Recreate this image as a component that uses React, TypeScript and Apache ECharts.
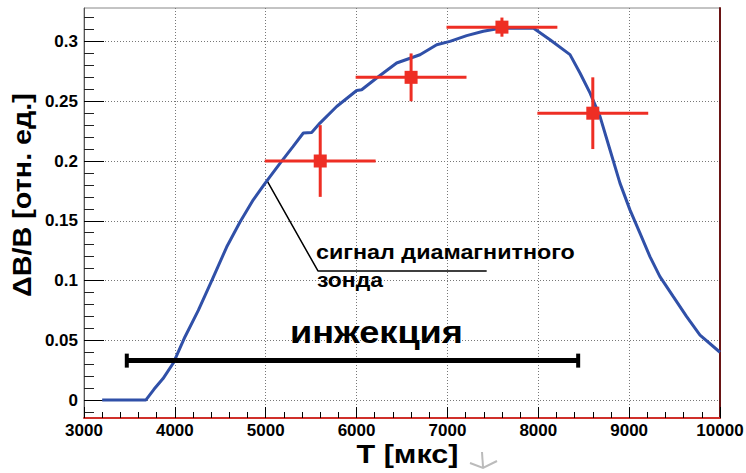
import React, { useEffect, useRef } from "react";
import * as echarts from "echarts";

// ---------- data ----------
const probeTimes = [
  3200, 3680, 3770, 3870, 3983, 4112, 4258, 4405, 4570, 4717, 4863, 4990,
  5157, 5300, 5414, 5506, 5597, 5781, 6001, 6056, 6221, 6441, 6698, 6882,
  7028, 7212, 7395, 7578, 7945, 8129, 8349, 8459, 8569, 8679, 8789, 8899,
  9009, 9119, 9229, 9339, 9486, 9633, 9780, 10000,
];
const probeValues = [
  0, 0, 0.009, 0.018, 0.031, 0.053, 0.075, 0.0997, 0.128, 0.149, 0.1675, 0.181,
  0.198, 0.212, 0.2234, 0.2239, 0.2317, 0.2456, 0.259, 0.2596, 0.2694, 0.282, 0.2889, 0.2973,
  0.3001, 0.3049, 0.3085, 0.311, 0.3113, 0.3015, 0.289, 0.2736, 0.257, 0.2373, 0.2094, 0.1815,
  0.1591, 0.1396, 0.12, 0.1033, 0.0865, 0.0698, 0.0544, 0.04,
];

const pointTimes = [5600, 6600, 7600, 8600];
const pointValues = [0.2, 0.27, 0.312, 0.24];
const pointTimeErrors = [610, 610, 610, 610];
const pointValueErrors = [0.03, 0.02, 0.008, 0.03];

const injectionStart = 3460;
const injectionEnd = 8450;
const injectionLevel = 0.033;

const leaderTimes = [5011, 5575, 7432];
const leaderValues = [0.184, 0.108, 0.108];

const xMin = 3000;
const xMax = 10000;
const xStep = 1000;
const yMin = -0.015;
const yMax = 0.328;
const yMajorTicks = [0, 0.05, 0.1, 0.15, 0.2, 0.25, 0.3];
const yMajorLabels = ["0", "0.05", "0.1", "0.15", "0.2", "0.25", "0.3"];
const yMinorTicks = [
  -0.01, 0.01, 0.02, 0.03, 0.04, 0.06, 0.07, 0.08, 0.09, 0.11, 0.12, 0.13, 0.14,
  0.16, 0.17, 0.18, 0.19, 0.21, 0.22, 0.23, 0.24, 0.26, 0.27, 0.28, 0.29, 0.31, 0.32,
];

const yTitle = "ΔB/B [отн. ед.]";
const xTitle = "T [мкс]";
const probeLabel1 = "сигнал диамагнитного";
const probeLabel2 = "зонда";
const injectionLabel = "инжекция";

// ---------- helpers ----------
const FONT = '"Liberation Sans", Arial, Helvetica, sans-serif';
let measureCtx: CanvasRenderingContext2D | null = null;
function fit(text: string, size: number, target: number): number {
  if (!measureCtx) measureCtx = document.createElement("canvas").getContext("2d");
  if (!measureCtx) return 1;
  measureCtx.font = `bold ${size}px ${FONT}`;
  const w = measureCtx.measureText(text).width;
  return w > 0 ? target / w : 1;
}

const RED = "#ee2e24";
const BLUE = "#3050a8";

export default function App() {
  const ref = useRef<HTMLDivElement>(null);

  useEffect(() => {
    if (!ref.current) return;
    const chart = echarts.init(ref.current, undefined, { renderer: "svg" });

    const curve = probeTimes.map((t, i) => [t, probeValues[i]]);
    const points = pointTimes.map((t, i) => [t, pointValues[i], pointTimeErrors[i], pointValueErrors[i]]);
    const leader = leaderTimes.map((t, i) => [t, leaderValues[i]]);

    const textEl = (text: string, x: number, y: number, size: number, target: number, align: string, extra: any = {}) => ({
      type: "text",
      x,
      y,
      scaleX: fit(text, size, target),
      z: 100,
      ...extra,
      style: {
        text,
        font: `bold ${size}px ${FONT}`,
        fill: "#000",
        align,
        textAlign: align,
        verticalAlign: "middle",
        textVerticalAlign: "middle",
      },
    });

    const option: any = {
      animation: false,
      backgroundColor: "#fff",
      grid: {
        left: 84,
        right: 26,
        top: 8,
        bottom: 55,
        show: true,
        borderColor: "#888",
        borderWidth: 1,
        backgroundColor: "transparent",
        containLabel: false,
        outerBoundsMode: "none",
      },
      xAxis: {
        type: "value",
        min: xMin,
        max: xMax,
        interval: xStep,
        axisLine: { show: true, onZero: false, lineStyle: { color: "#d0302a", width: 2 } },
        axisTick: { show: true, inside: true, length: 11, lineStyle: { color: "#000", width: 1 } },
        minorTick: { show: true, splitNumber: 5, length: 6, lineStyle: { color: "#000", width: 1 } },
        minorSplitLine: { show: false },
        axisLabel: {
          show: true,
          margin: 4,
          fontSize: 17,
          fontWeight: "bold",
          fontFamily: FONT,
          color: "#000",
          formatter: (v: number) => String(v),
        },
        splitLine: { show: true, lineStyle: { color: "#777", type: [1, 2], width: 1 } },
      },
      yAxis: [
        {
          type: "value",
          position: "left",
          min: yMin,
          max: yMax,
          axisLine: { show: true, onZero: false, lineStyle: { color: "#555", width: 1 } },
          axisTick: {
            show: true,
            inside: true,
            length: 20,
            customValues: yMajorTicks,
            lineStyle: { color: "#000", width: 1 },
          },
          axisLabel: {
            show: true,
            customValues: yMajorTicks,
            margin: 6,
            fontSize: 17,
            fontWeight: "bold",
            fontFamily: FONT,
            color: "#000",
            formatter: (v: number) => {
              const i = yMajorTicks.findIndex((t) => Math.abs(t - v) < 1e-9);
              return i >= 0 ? yMajorLabels[i] : "";
            },
          },
          splitLine: { show: true, lineStyle: { color: "#777", type: [1, 2], width: 1 } },
        },
        {
          type: "value",
          position: "left",
          min: yMin,
          max: yMax,
          axisLine: { show: false },
          axisLabel: { show: false },
          splitLine: { show: false },
          axisTick: {
            show: true,
            inside: true,
            length: 10,
            customValues: yMinorTicks,
            lineStyle: { color: "#222", width: 1 },
          },
        },
        {
          type: "value",
          position: "right",
          min: yMin,
          max: yMax,
          axisLine: { show: true, onZero: false, lineStyle: { color: "#6a1414", width: 2 } },
          axisLabel: { show: false },
          axisTick: { show: false },
          splitLine: { show: false },
        },
      ],
      series: [
        {
          name: "leader",
          type: "line",
          data: leader,
          showSymbol: false,
          symbol: "none",
          lineStyle: { color: "#000", width: 1.5 },
          z: 2,
        },
        {
          name: "probe",
          type: "line",
          data: curve,
          showSymbol: false,
          symbol: "none",
          lineStyle: { color: BLUE, width: 3 },
          z: 3,
        },
        {
          name: "errors",
          type: "custom",
          data: points,
          encode: { x: 0, y: 1 },
          z: 4,
          renderItem: (_p: any, api: any) => {
            const x = api.value(0);
            const y = api.value(1);
            const dx = api.value(2);
            const dy = api.value(3);
            const l = api.coord([x - dx, y]);
            const r = api.coord([x + dx, y]);
            const b = api.coord([x, y - dy]);
            const t = api.coord([x, y + dy]);
            const style = { stroke: RED, lineWidth: 3 };
            return {
              type: "group",
              children: [
                { type: "line", shape: { x1: l[0], y1: l[1], x2: r[0], y2: r[1] }, style },
                { type: "line", shape: { x1: b[0], y1: b[1], x2: t[0], y2: t[1] }, style },
              ],
            };
          },
        },
        {
          name: "points",
          type: "scatter",
          data: points.map((p) => [p[0], p[1]]),
          symbol: "rect",
          symbolSize: 13,
          itemStyle: { color: RED, opacity: 1 },
          z: 5,
        },
        {
          name: "injection",
          type: "custom",
          data: [[injectionStart, injectionEnd, injectionLevel]],
          encode: { x: [0, 1], y: 2 },
          z: 4,
          renderItem: (_p: any, api: any) => {
            const a = api.coord([api.value(0), api.value(2)]);
            const b = api.coord([api.value(1), api.value(2)]);
            const style = { stroke: "#000", lineWidth: 5 };
            const cap = { stroke: "#000", lineWidth: 4 };
            return {
              type: "group",
              children: [
                { type: "line", shape: { x1: a[0], y1: a[1], x2: b[0], y2: b[1] }, style },
                { type: "line", shape: { x1: a[0] + 1, y1: a[1] - 7, x2: a[0] + 1, y2: a[1] + 7 }, style: cap },
                { type: "line", shape: { x1: b[0] - 1, y1: b[1] - 7, x2: b[0] - 1, y2: b[1] + 7 }, style: cap },
              ],
            };
          },
        },
      ],
      graphic: [
        textEl(yTitle, 23, 195, 25, 204, "center", { rotation: Math.PI / 2 }),
        textEl(xTitle, 407.5, 454.5, 25, 102, "center"),
        textEl(probeLabel1, 316, 252, 20, 259, "left"),
        textEl(probeLabel2, 317, 280, 20, 66, "left"),
        textEl(injectionLabel, 290, 332, 32, 173, "left"),
        {
          type: "polyline",
          shape: { points: [[470, 463], [483, 468], [497, 461]] },
          style: { stroke: "#bbb", lineWidth: 2, fill: null },
        },
        {
          type: "line",
          shape: { x1: 482, y1: 452, x2: 483, y2: 467 },
          style: { stroke: "#bbb", lineWidth: 2 },
        },
      ],
    };

    chart.setOption(option);
    return () => chart.dispose();
  }, []);

  return (
    <div
      ref={ref}
      style={{ position: "fixed", left: 0, top: 0, width: 746, height: 473, background: "#fff" }}
    />
  );
}
